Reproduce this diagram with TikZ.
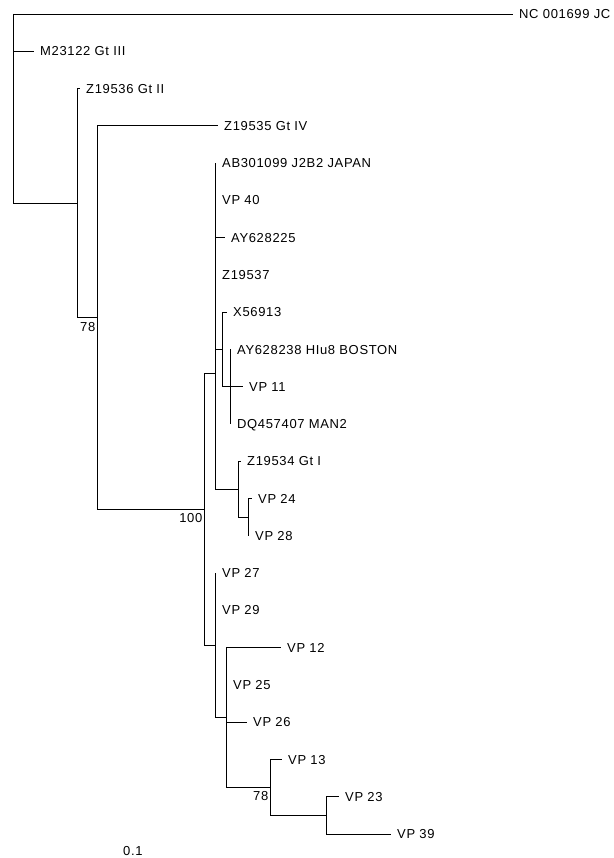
\documentclass[tikz,border=0pt]{standalone}
\usepackage{fontspec}
\setmainfont{Liberation Sans}[LetterSpace=5]
\begin{document}
\begin{tikzpicture}[x=1pt,y=-1pt,
  br/.style={line width=0.9pt, black},
  lab/.style={anchor=base west, inner sep=0pt, xshift=6pt, yshift=-4.65pt, font=\fontsize{13}{15}\selectfont},
  boot/.style={anchor=north east, inner sep=0pt, font=\fontsize{13}{15}\selectfont}]
\useasboundingbox (0,0) rectangle (613,858);
% internal nodes
\coordinate (R) at (13,108);
\coordinate (A) at (77,203);
\coordinate (B) at (97,317.5);
\coordinate (C) at (204,509.1);
\coordinate (D) at (215,373);
\coordinate (F) at (222,349.43);
\coordinate (H) at (230,386.7);
\coordinate (G) at (238,489.2);
\coordinate (I) at (248,517.15);
\coordinate (E) at (215,645.26);
\coordinate (J) at (226,717.47);
\coordinate (K) at (270,787.35);
\coordinate (L) at (326,815.3);
% leaf tips
\coordinate (t1) at (513,14);
\coordinate (t2) at (34,51.27);
\coordinate (t3) at (80,88.54);
\coordinate (t4) at (218,125.81);
\coordinate (t5) at (216,163.08);
\coordinate (t6) at (216,200.35);
\coordinate (t7) at (225,237.62);
\coordinate (t8) at (216,274.89);
\coordinate (t9) at (227,312.16);
\coordinate (t10) at (231,349.43);
\coordinate (t11) at (243,386.7);
\coordinate (t12) at (231,423.97);
\coordinate (t13) at (241,461.24);
\coordinate (t14) at (252,498.51);
\coordinate (t15) at (249,535.78);
\coordinate (t16) at (216,573.05);
\coordinate (t17) at (216,610.32);
\coordinate (t18) at (281,647.59);
\coordinate (t19) at (227,684.86);
\coordinate (t20) at (247,722.13);
\coordinate (t21) at (282,759.4);
\coordinate (t22) at (339,796.67);
\coordinate (t23) at (391,833.94);
% labels
\node[lab] (n1) at (t1) {NC 001699 JC};
\node[lab] (n2) at (t2) {M23122 Gt III};
\node[lab] (n3) at (t3) {Z19536 Gt II};
\node[lab] (n4) at (t4) {Z19535 Gt IV};
\node[lab] (n5) at (t5) {AB301099 J2B2 JAPAN};
\node[lab] (n6) at (t6) {VP 40};
\node[lab] (n7) at (t7) {AY628225};
\node[lab] (n8) at (t8) {Z19537};
\node[lab] (n9) at (t9) {X56913};
\node[lab] (n10) at (t10) {AY628238 HIu8 BOSTON};
\node[lab] (n11) at (t11) {VP 11};
\node[lab] (n12) at (t12) {DQ457407 MAN2};
\node[lab] (n13) at (t13) {Z19534 Gt I};
\node[lab] (n14) at (t14) {VP 24};
\node[lab] (n15) at (t15) {VP 28};
\node[lab] (n16) at (t16) {VP 27};
\node[lab] (n17) at (t17) {VP 29};
\node[lab] (n18) at (t18) {VP 12};
\node[lab] (n19) at (t19) {VP 25};
\node[lab] (n20) at (t20) {VP 26};
\node[lab] (n21) at (t21) {VP 13};
\node[lab] (n22) at (t22) {VP 23};
\node[lab] (n23) at (t23) {VP 39};
% branches
\draw[br] (R|-t1) -- (R|-A);
\draw[br] (R|-t1) -- (t1);
\draw[br] (R|-t2) -- (t2);
\draw[br] (R|-A) -- (A);
\draw[br] (A|-t3) -- (A|-B);
\draw[br] (A|-t3) -- (t3);
\draw[br] (A|-B) -- (B);
\draw[br] (B|-t4) -- (B|-C);
\draw[br] (B|-t4) -- (t4);
\draw[br] (B|-C) -- (C);
\draw[br] (C|-D) -- (C|-E);
\draw[br] (C|-D) -- (D);
\draw[br] (C|-E) -- (E);
\draw[br] (D|-t5) -- (D|-G);
\draw[br] (D|-t7) -- (t7);
\draw[br] (D|-F) -- (F);
\draw[br] (D|-G) -- (G);
\draw[br] (F|-t9) -- (F|-H);
\draw[br] (F|-t9) -- (t9);
\draw[br] (F|-H) -- (H);
\draw[br] (H|-t10) -- (H|-t12);
\draw[br] (H|-t11) -- (t11);
\draw[br] (G|-t13) -- (G|-I);
\draw[br] (G|-t13) -- (t13);
\draw[br] (G|-I) -- (I);
\draw[br] (I|-t14) -- (I|-t15);
\draw[br] (I|-t14) -- (t14);
\draw[br] (E|-t16) -- (E|-J);
\draw[br] (E|-J) -- (J);
\draw[br] (J|-t18) -- (J|-K);
\draw[br] (J|-t18) -- (t18);
\draw[br] (J|-t20) -- (t20);
\draw[br] (J|-K) -- (K);
\draw[br] (K|-t21) -- (K|-L);
\draw[br] (K|-t21) -- (t21);
\draw[br] (K|-L) -- (L);
\draw[br] (L|-t22) -- (L|-t23);
\draw[br] (L|-t22) -- (t22);
\draw[br] (L|-t23) -- (t23);
% bootstrap values
\node[boot] (bB) at ([xshift=-1.5pt,yshift=-5pt]B) {78};
\node[boot] (bC) at ([xshift=-1.5pt,yshift=-4pt]C) {100};
\node[boot] (bK) at ([xshift=-1.5pt,yshift=-4pt]K) {78};
% scale
\node[anchor=base west, inner sep=0pt, font=\fontsize{13}{15}\selectfont] (sc) at (123,855) {0.1};
\end{tikzpicture}
\end{document}
